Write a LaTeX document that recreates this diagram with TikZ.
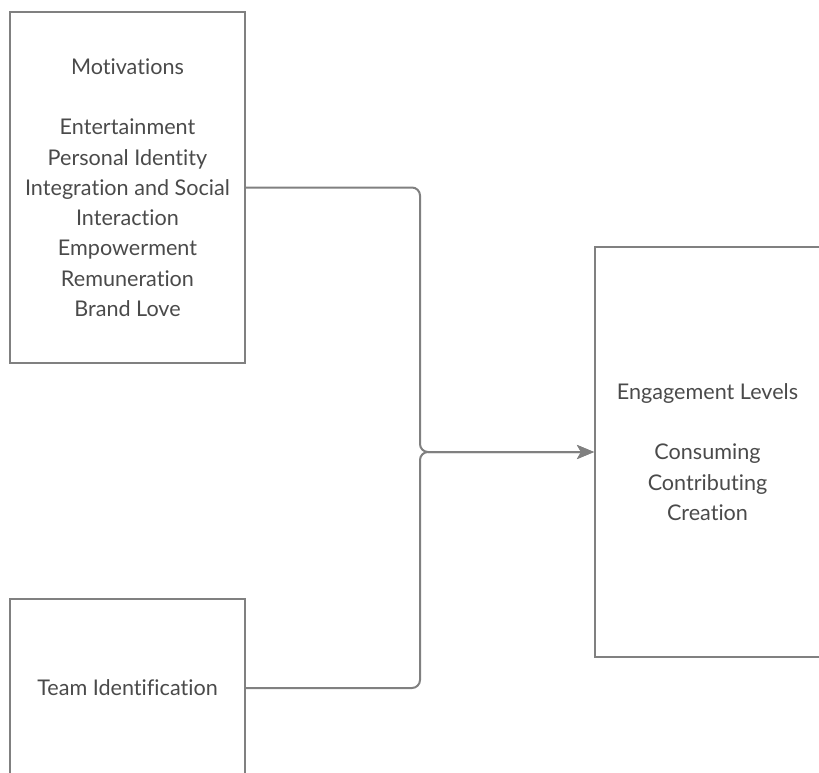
\documentclass[tikz,border=0pt]{standalone}
\usepackage{fontspec}
\setmainfont{Lato}[Ligatures=NoCommon]
\usetikzlibrary{arrows.meta, positioning}
\definecolor{linegray}{HTML}{808080}
\definecolor{textgray}{HTML}{4A4A4A}
\tikzstyle{every picture} = [x=1pt, y=-1pt]

\begin{document}
\begin{tikzpicture} [box/.style={rectangle, draw=linegray, line width=2pt, text=textgray, align=center, font=\fontsize{21.6}{30.3}\selectfont},
                     conn/.style={draw=linegray, line width=2pt, rounded corners=8pt, -{Stealth[length=17pt, width=14pt, inset=4pt]}}]
            \useasboundingbox (0,0) rectangle (819,772);
            \node (motiv) [box, minimum width=235pt, minimum height=351pt] at (127.5,187.5)
                {Motivations\\[30.3pt]Entertainment\\Personal Identity\\Integration and Social\\Interaction\\Empowerment\\Remuneration\\Brand Love};
            \node (team) [box, minimum width=235pt, minimum height=178pt] at (127.5,688) {Team Identification};
            \node (engage) [box, minimum width=225pt, minimum height=410pt] at (707.5,452)
                {Engagement Levels\\[30.3pt]Consuming\\Contributing\\Creation};
            \coordinate (join) at (420,452);

            \path (motiv.east) edge[conn, to path={-| (join) -- (\tikztotarget)}] (engage.west)
                  (team.east) edge[conn, to path={-| (join) -- (\tikztotarget)}] (engage.west);
        \end{tikzpicture}
\end{document}
